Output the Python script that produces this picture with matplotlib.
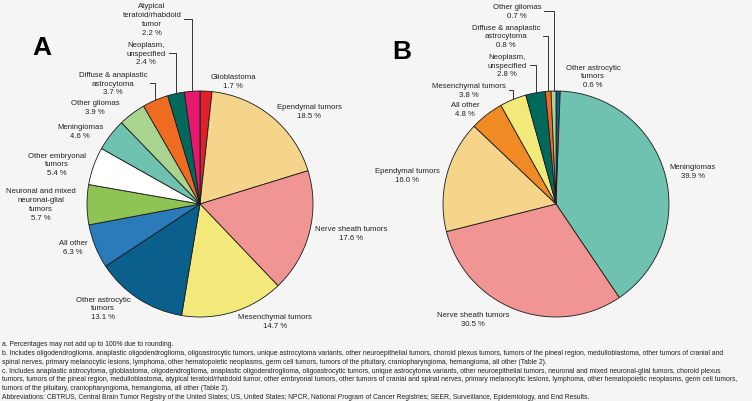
import numpy as np
import matplotlib.pyplot as plt

plt.rcParams['font.family'] = ['Liberation Sans', 'DejaVu Sans']

# panel A
labels_a = ['Glioblastoma', 'Ependymal tumors', 'Nerve sheath tumors', 'Mesenchymal tumors',
            'Other astrocytic\ntumors', 'All other', 'Neuronal and mixed\nneuronal-glial\ntumors',
            'Other embryonal\ntumors', 'Meningiomas', 'Other gliomas',
            'Diffuse & anaplastic\nastrocytoma', 'Neoplasm,\nunspecified',
            'Atypical\nteratoid/rhabdoid\ntumor']
values_a = [1.7, 18.5, 17.6, 14.7, 13.1, 6.3, 5.7, 5.4, 4.6, 3.9, 3.7, 2.4, 2.2]
colors_a = ['#e3202a', '#f5d48b', '#f09494', '#f2e97a', '#0b5f8c', '#2b7bba', '#8dc454',
            '#ffffff', '#6fc2b0', '#a9d48f', '#ef6b22', '#00695c', '#e5196e']

# panel B
labels_b = ['Other astrocytic\ntumors', 'Meningiomas', 'Nerve sheath tumors', 'Ependymal tumors',
            'All other', 'Mesenchymal tumors', 'Neoplasm,\nunspecified',
            'Diffuse & anaplastic\nastrocytoma', 'Other gliomas']
values_b = [0.6, 39.9, 30.5, 16.0, 4.8, 3.8, 2.8, 0.8, 0.7]
colors_b = ['#0b5f8c', '#6fc2b0', '#f09494', '#f5d48b', '#f08a25', '#f2e97a', '#00695c',
            '#ef6b22', '#a9d48f']

# label placement (pixels from top-left), True = elbow leader line
layout_a = [(233, 82, False), (309, 112, False), (351, 234, False), (275, 322, False),
            (103, 309, False), (73, 248, False), (41, 205, False), (57, 165, False),
            (80, 132, False), (95, 108, False), (113, 84, True), (146, 54, True),
            (152, 20, True)]
layout_b = [(593, 77, False), (693, 172, False), (473, 320, False), (407, 176, False),
            (465, 110, False), (469, 91, True), (507, 66, True), (506, 37, True),
            (517, 12, True)]

notes = [
    'a. Percentages may not add up to 100% due to rounding.',
    'b. Includes oligodendroglioma, anaplastic oligodendroglioma, oligoastrocytic tumors, unique astrocytoma variants, other neuroepithelial tumors, choroid plexus tumors, tumors of the pineal region, medulloblastoma, other tumors of cranial and',
    'spinal nerves, primary melanocytic lesions, lymphoma, other hematopoietic neoplasms, germ cell tumors, tumors of the pituitary, craniopharyngioma, hemangioma, all other (Table 2).',
    'c. Includes anaplastic astrocytoma, glioblastoma, oligodendroglioma, anaplastic oligodendroglioma, oligoastrocytic tumors, unique astrocytoma variants, other neuroepithelial tumors, neuronal and mixed neuronal-glial tumors, choroid plexus',
    'tumors, tumors of the pineal region, medulloblastoma, atypical teratoid/rhabdoid tumor, other embryonal tumors, other tumors of cranial and spinal nerves, primary melanocytic lesions, lymphoma, other hematopoietic neoplasms, germ cell tumors,',
    'tumors of the pituitary, craniopharyngioma, hemangioma, all other (Table 2).',
    'Abbreviations: CBTRUS, Central Brain Tumor Registry of the United States; US, United States; NPCR, National Program of Cancer Registries; SEER, Surveillance, Epidemiology, and End Results.',
]

W, H = 752, 402
fig = plt.figure(figsize=(W / 100, H / 100), dpi=100, facecolor='#f5f5f5')
ax = fig.add_axes([0, 0, 1, 1])

R = 113
TXT = '#222222'
FS = 5.55


def draw_pie(cx, cy, values, colors, labels, layout, letter, lx, ly):
    # y axis gets inverted afterwards, so counterclock=True runs clockwise on screen
    ax.pie(values, colors=colors, center=(cx, cy), radius=R, startangle=-90,
           counterclock=True, wedgeprops=dict(edgecolor='#1a1a1a', linewidth=0.6),
           frame=True)
    ax.set_xlim(0, W)
    ax.set_ylim(H, 0)
    ax.set_aspect('equal')
    ax.axis('off')
    total = sum(values)
    cum = np.cumsum([0] + values[:-1])
    for v, c0, lab, (tx, ty, leader) in zip(values, cum, labels, layout):
        t = ax.text(tx, ty, f'{lab}\n{v:.1f} %', ha='center', va='center',
                    fontsize=FS, color=TXT, linespacing=1.35)
        if leader:
            ang = np.deg2rad((c0 + v / 2) / total * 360)
            ex = cx + R * np.sin(ang)
            ey = cy - R * np.cos(ang)
            fig.canvas.draw()
            bb = t.get_window_extent().transformed(ax.transData.inverted())
            x0 = max(bb.x0, bb.x1) + 3
            ax.plot([x0, ex, ex], [ty, ty, ey], color='#333333', lw=0.7,
                    solid_joinstyle='miter')
    ax.text(lx, ly, letter, fontsize=19, fontweight='bold', ha='center', va='center',
            color='black')


draw_pie(200, 205, values_a, colors_a, labels_a, layout_a, 'A', 42, 48)
draw_pie(556, 205, values_b, colors_b, labels_b, layout_b, 'B', 402, 52)

# footnotes: size chosen so the longest line spans the figure width like the reference
note_texts = [ax.text(2, 345 + i * 8.7, line, fontsize=5.0, color=TXT, ha='left', va='center')
              for i, line in enumerate(notes)]
fig.canvas.draw()
widest = max(t.get_window_extent().width for t in note_texts)
fs_notes = 5.0 * 746 / widest
for t in note_texts:
    t.set_fontsize(fs_notes)

fig.savefig('out.png', dpi=100, facecolor=fig.get_facecolor())
